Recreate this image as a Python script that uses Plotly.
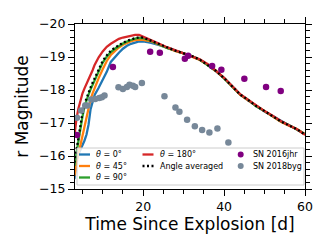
import plotly.graph_objects as go

# ---------------- data ----------------
t_model = [3.0, 3.5, 4.0, 4.5, 5.0, 5.5, 6.0, 6.5, 7.0, 7.5, 8.0, 9.0, 10.0, 11.0, 12.0,
           13.0, 14.0, 15.0, 16.0, 17.0, 18.0, 19.0, 20.0, 21.0, 22.0,
           24.0, 26.0, 28.0, 30.0, 32.0, 34.0, 36.0, 38.0, 40.0, 42.0, 44.0, 46.0,
           48.0, 50.0, 52.0, 54.0, 56.0, 58.0, 60.0]

mag_theta0 = [-15.3, -15.88, -16.05, -16.18, -16.3, -16.47, -16.65, -16.95, -17.42, -17.68, -17.85,
              -18.07, -18.3, -18.55, -18.85, -19.0, -19.13, -19.25, -19.34, -19.4, -19.44,
              -19.47, -19.47, -19.45, -19.43,
              -19.36, -19.27, -19.18, -19.11, -19.03, -18.92, -18.76, -18.58, -18.36, -18.1,
              -17.86, -17.68, -17.51, -17.35, -17.21, -17.06, -16.93, -16.81, -16.66]
mag_theta45 = [-15.4, -15.8, -16.08, -16.33, -16.6, -16.9, -17.2, -17.48, -17.72, -17.9, -18.07,
               -18.36, -18.63, -18.88, -19.06, -19.18, -19.29, -19.37, -19.43, -19.48, -19.51,
               -19.53, -19.52, -19.5, -19.47,
               -19.37, -19.27, -19.18, -19.11, -19.02, -18.91, -18.76, -18.59, -18.36, -18.1,
               -17.85, -17.68, -17.52, -17.37, -17.2, -17.04, -16.92, -16.82, -16.66]
mag_theta90 = [-15.7, -16.1, -16.5, -16.88, -17.2, -17.5, -17.7, -17.86, -18.02, -18.16, -18.3,
               -18.57, -18.83, -19.01, -19.15, -19.25, -19.34, -19.41, -19.47, -19.52, -19.56,
               -19.58, -19.57, -19.53, -19.49,
               -19.38, -19.27, -19.19, -19.12, -19.03, -18.92, -18.75, -18.57, -18.35, -18.09,
               -17.86, -17.7, -17.5, -17.36, -17.2, -17.05, -16.94, -16.8, -16.66]
mag_theta180 = [-16.6, -17.12, -17.44, -17.72, -17.9, -18.05, -18.18, -18.31, -18.44, -18.6, -18.76,
                -18.99, -19.17, -19.31, -19.4, -19.48, -19.55, -19.59, -19.62, -19.65, -19.67,
                -19.67, -19.62, -19.56, -19.5,
                -19.4, -19.29, -19.2, -19.13, -19.04, -18.93, -18.78, -18.58, -18.37, -18.12,
                -17.87, -17.7, -17.53, -17.36, -17.22, -17.06, -16.93, -16.81, -16.64]
mag_avg = [-15.8, -16.2, -16.6, -16.98, -17.3, -17.58, -17.76, -17.92, -18.08, -18.22, -18.36,
           -18.62, -18.88, -19.05, -19.19, -19.28, -19.36, -19.43, -19.49, -19.54, -19.57,
           -19.6, -19.59, -19.54, -19.49,
           -19.38, -19.28, -19.19, -19.11, -19.03, -18.92, -18.76, -18.58, -18.36, -18.1,
           -17.86, -17.69, -17.51, -17.36, -17.21, -17.05, -16.93, -16.81, -16.65]

t_2016jhr = [3.63, 12.52, 21.73, 24.12, 30.3, 31.11, 37.04, 39.33, 45.01, 50.37, 54.0]
mag_2016jhr = [-16.64, -18.7, -19.16, -19.13, -18.95, -19.04, -18.73, -18.61, -18.34, -18.09, -17.97]

t_2018byg = [3.63, 4.69, 5.68, 6.25, 7.16, 8.15, 9.14, 9.8, 10.44, 13.9, 14.99, 15.98, 16.62,
             17.46, 18.02, 19.68, 25.26, 27.98, 28.96, 30.86, 32.77, 34.57, 36.37, 38.35, 41.06]
mag_2018byg = [-17.16, -17.38, -17.53, -17.53, -17.71, -17.73, -17.76, -17.78, -17.83, -18.08,
               -18.03, -18.09, -18.16, -18.13, -18.09, -18.21, -17.81, -17.47, -17.34, -17.1,
               -16.9, -16.79, -16.71, -16.83, -16.41]

line_names = ["<i>θ</i> = 0°", "<i>θ</i> = 45°", "<i>θ</i> = 90°", "<i>θ</i> = 180°", "Angle averaged"]
obs_names = ["SN 2016jhr", "SN 2018byg"]
x_ticks = [20, 40, 60]
y_ticks = [-20, -19, -18, -17, -16, -15]

# ---------------- style ----------------
C_BLUE, C_ORANGE, C_GREEN, C_RED = "#1f77b4", "#ff7f0e", "#2ca02c", "#d62728"
C_PURPLE, C_GRAY = "#800080", "#778899"
FONT = "DejaVu Sans"

fig = go.Figure()
model = [(mag_theta0, C_BLUE), (mag_theta45, C_ORANGE), (mag_theta90, C_GREEN),
         (mag_theta180, C_RED)]
for (m, c), name in zip(model, line_names[:4]):
    fig.add_trace(go.Scatter(x=t_model, y=m, mode="lines", name=name,
                             line=dict(color=c, width=2.3), showlegend=False))
fig.add_trace(go.Scatter(x=t_model, y=mag_avg, mode="lines", name=line_names[4],
                         line=dict(color="black", width=2.3, dash="2px,2.5px"), showlegend=False))
fig.add_trace(go.Scatter(x=t_2016jhr, y=mag_2016jhr, mode="markers", name=obs_names[0],
                         marker=dict(color=C_PURPLE, size=6.5), showlegend=False))
fig.add_trace(go.Scatter(x=t_2018byg, y=mag_2018byg, mode="markers", name=obs_names[1],
                         marker=dict(color=C_GRAY, size=6.5), showlegend=False))

# ---------------- legend (drawn in paper space) ----------------
L, W, T, H = 75, 230, 24, 165
def px(x): return (x - L) / W
def py(y): return (T + H - y) / H

shapes = [dict(type="rect", xref="paper", yref="paper", x0=px(77), x1=px(304), y0=py(185), y1=py(148),
               line=dict(color="#cccccc", width=1), fillcolor="rgba(255,255,255,0.8)", layer="above")]
annotations = []
rows = [154.5, 166, 177.5]
leg_lines = [(C_BLUE, None, 79, 0), (C_ORANGE, None, 79, 1), (C_GREEN, None, 79, 2),
             (C_RED, None, 142.5, 0), ("black", "dot", 142.5, 1)]
for (c, d, x0, r), name in zip(leg_lines, line_names):
    yy = py(rows[r])
    shapes.append(dict(type="line", xref="paper", yref="paper", x0=px(x0), x1=px(x0 + 11),
                       y0=yy, y1=yy, layer="above",
                       line=dict(color=c, width=2.3, dash="2px,2.5px" if d else "solid")))
    annotations.append(dict(xref="paper", yref="paper", x=px(x0 + 15), y=yy, text=name,
                            showarrow=False, xanchor="left", yanchor="middle",
                            font=dict(family=FONT, size=8, color="black")))
for c, r, name in [(C_PURPLE, 0, obs_names[0]), (C_GRAY, 1, obs_names[1])]:
    yy = py(rows[r])
    shapes.append(dict(type="circle", xref="paper", yref="paper", xsizemode="pixel",
                       ysizemode="pixel", xanchor=px(240.7), yanchor=yy, x0=-3, x1=3, y0=-3, y1=3,
                       fillcolor=c, line=dict(width=0), layer="above"))
    annotations.append(dict(xref="paper", yref="paper", x=px(250.5), y=yy, text=name,
                            showarrow=False, xanchor="left", yanchor="middle",
                            font=dict(family=FONT, size=8, color="black")))

axis_common = dict(showline=True, linecolor="black", linewidth=1.1, mirror="ticks",
                   ticks="outside", ticklen=6, tickwidth=1.1, tickcolor="black",
                   showgrid=False, zeroline=False,
                   tickfont=dict(family=FONT, size=12.5, color="black"))

fig.update_layout(
    width=332, height=249,
    margin=dict(l=L, r=332 - L - W, t=T, b=249 - T - H),
    paper_bgcolor="white", plot_bgcolor="white",
    font=dict(family=FONT, color="black"),
    shapes=shapes, annotations=annotations,
    xaxis=dict(range=[3.15, 60], tickmode="array", tickvals=x_ticks,
               minor=dict(dtick=5, tick0=0, ticklen=3.5, ticks="outside", tickwidth=1,
                          tickcolor="black", showgrid=False),
               title=dict(text="Time Since Explosion [d]", font=dict(family=FONT, size=17),
                          standoff=0),
               **axis_common),
    yaxis=dict(range=[-15, -20], tickmode="array", tickvals=y_ticks,
               minor=dict(dtick=0.2, tick0=0, ticklen=3.5, ticks="outside", tickwidth=1,
                          tickcolor="black", showgrid=False),
               title=dict(text="r Magnitude", font=dict(family=FONT, size=17), standoff=6),
               **axis_common),
)

fig.write_html("out.html", config={"displayModeBar": False},
               post_script="document.body.style.margin='0px';document.body.style.overflow='hidden';")
